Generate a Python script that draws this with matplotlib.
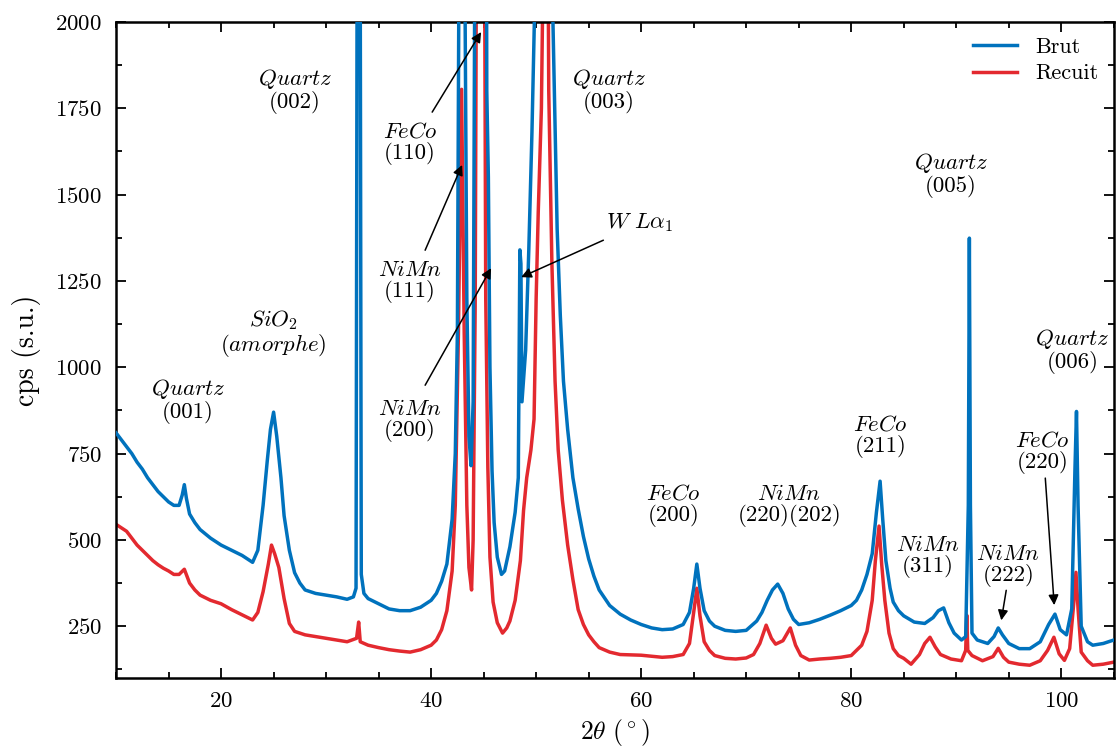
import matplotlib
matplotlib.use("Agg")
import matplotlib.pyplot as plt
from matplotlib.ticker import MultipleLocator

plt.rcParams['font.family'] = 'serif'
plt.rcParams['font.serif'] = ['cmr10', 'DejaVu Serif']
plt.rcParams['mathtext.fontset'] = 'cm'
plt.rcParams['axes.unicode_minus'] = False
plt.rcParams['axes.formatter.use_mathtext'] = True

# ---- data ----
brut_x = [10.0, 10.5, 11.0, 11.5, 12.0, 12.5, 13.0, 13.5, 14.0, 14.5, 15.0, 15.5, 16.0, 16.3, 16.5, 16.7,
          17.0, 17.5, 18.0, 19.0, 20.0, 21.0, 22.0, 22.5, 23.0, 23.5, 24.0, 24.4, 24.7, 25.0, 25.3, 25.7,
          26.0, 26.5, 27.0, 27.5, 28.0, 29.0, 30.0, 31.0, 32.0, 32.6, 32.85, 33.0, 33.1, 33.2, 33.35, 33.6,
          34.0, 35.0, 36.0, 37.0, 38.0, 39.0, 40.0, 40.5, 41.0, 41.5, 42.0, 42.3, 42.5, 42.7, 43.0, 43.2,
          43.4, 43.6, 43.8, 44.0, 44.2, 44.5, 44.8, 45.1, 45.3, 45.45, 45.6, 45.8, 46.0, 46.3, 46.7, 47.0,
          47.5, 48.0, 48.3, 48.45, 48.55, 48.65, 49.0, 49.3, 49.6, 49.9, 50.3, 51.0, 51.6, 52.0, 52.3, 52.6,
          53.0, 53.5, 54.0, 54.5, 55.0, 55.5, 56.0, 57.0, 58.0, 59.0, 60.0, 61.0, 62.0, 63.0, 64.0, 64.6,
          65.0, 65.3, 65.6, 66.0, 66.5, 67.0, 68.0, 69.0, 70.0, 71.0, 71.5, 72.0, 72.5, 73.0, 73.5, 74.0,
          74.5, 75.0, 76.0, 77.0, 78.0, 79.0, 80.0, 80.5, 81.0, 81.5, 82.0, 82.4, 82.75, 83.0, 83.3, 83.7,
          84.0, 84.5, 85.0, 86.0, 87.0, 87.8, 88.3, 88.8, 89.3, 89.8, 90.5, 90.9, 91.15, 91.25, 91.35, 91.5,
          92.0, 93.0, 93.6, 94.0, 94.4, 95.0, 96.0, 97.0, 98.0, 98.8, 99.4, 99.9, 100.5, 101.0, 101.3, 101.45,
          101.6, 101.9, 102.5, 103.0, 104.0, 105.0]
brut_y = [810, 790, 770, 750, 725, 705, 680, 660, 640, 625, 610, 600, 600, 630, 660, 620,
          575, 550, 530, 505, 485, 470, 455, 445, 435, 470, 600, 730, 820, 870, 800, 680,
          570, 470, 405, 375, 355, 345, 340, 335, 328, 335, 360, 3000, 6000, 3000, 400, 345,
          330, 315, 300, 295, 295, 305, 325, 345, 380, 430, 560, 750, 1100, 2500, 4000, 2200,
          1200, 800, 715, 900, 2500, 8000, 10000, 5000, 1800, 1550, 1000, 700, 550, 450, 400, 410,
          480, 580, 680, 1340, 1300, 900, 1050, 1340, 1680, 2100, 3000, 3500, 2000, 1400, 1150, 960,
          820, 680, 590, 510, 445, 395, 355, 310, 285, 268, 255, 245, 240, 242, 255, 290,
          360, 430, 360, 295, 265, 250, 238, 235, 238, 265, 290, 325, 355, 372, 345, 300,
          270, 255, 260, 270, 282, 295, 310, 325, 355, 400, 460, 580, 670, 560, 440, 360,
          320, 295, 280, 262, 258, 275, 295, 303, 260, 230, 210, 220, 600, 1374, 600, 230,
          210, 200, 220, 245, 225, 200, 185, 185, 205, 255, 285, 240, 225, 300, 700, 872,
          600, 250, 205, 195, 200, 210]

recuit_x = [10.0, 10.5, 11.0, 11.5, 12.0, 12.5, 13.0, 13.5, 14.0, 14.5, 15.0, 15.5, 16.0, 16.5, 17.0, 17.5,
            18.0, 19.0, 20.0, 21.0, 22.0, 23.0, 23.5, 24.0, 24.5, 24.8, 25.1, 25.5, 26.0, 26.5, 27.0, 28.0,
            29.0, 30.0, 31.0, 32.0, 32.9, 33.1, 33.25, 34.0, 35.0, 36.0, 37.0, 38.0, 39.0, 40.0, 40.5, 41.0,
            41.5, 42.0, 42.3, 42.6, 42.9, 43.15, 43.4, 43.6, 43.85, 44.0, 44.2, 44.4, 44.7, 45.0, 45.2, 45.4,
            45.6, 45.9, 46.3, 46.8, 47.2, 47.5, 48.0, 48.5, 48.8, 49.1, 49.5, 49.8, 50.0, 50.2, 50.5, 50.8,
            51.0, 51.2, 51.5, 51.8, 52.1, 52.5, 53.0, 53.5, 54.0, 54.5, 55.0, 55.5, 56.0, 57.0, 58.0, 60.0,
            62.0, 63.0, 64.0, 64.6, 65.0, 65.3, 65.6, 66.0, 66.5, 67.0, 68.0, 69.0, 70.0, 70.7, 71.3, 71.9,
            72.4, 72.8, 73.5, 74.2, 74.7, 75.2, 76.0, 77.0, 78.0, 79.0, 80.0, 81.0, 81.5, 82.0, 82.3, 82.65,
            82.9, 83.2, 83.6, 84.0, 84.5, 85.0, 85.7, 86.5, 87.0, 87.5, 88.0, 88.5, 89.5, 90.5, 90.9, 91.0,
            91.1, 91.5, 92.5, 93.5, 94.0, 94.5, 95.0, 96.0, 97.0, 98.0, 98.7, 99.3, 99.8, 100.3, 100.8, 101.2,
            101.4, 101.6, 101.9, 102.5, 103.0, 104.0, 105.0]
recuit_y = [545, 535, 525, 505, 485, 470, 455, 440, 428, 418, 410, 400, 400, 415, 375, 355,
            340, 325, 315, 298, 283, 268, 290, 350, 430, 485, 460, 420, 330, 258, 235, 225,
            220, 215, 210, 205, 215, 262, 205, 195, 188, 182, 178, 175, 182, 195, 210, 240,
            295, 410, 600, 1100, 1805, 1100, 600, 420, 355, 500, 1200, 3000, 8000, 3000, 1200, 710,
            450, 320, 260, 230, 245, 265, 325, 440, 585, 680, 760, 850, 1200, 1450, 1750, 2500,
            3000, 1800, 1300, 960, 760, 615, 485, 385, 298, 255, 225, 205, 188, 175, 168, 166,
            160, 162, 168, 200, 290, 360, 280, 205, 180, 165, 157, 155, 158, 168, 200, 253,
            215, 198, 208, 245, 195, 165, 152, 155, 157, 160, 165, 195, 235, 325, 440, 540,
            430, 325, 230, 185, 165, 157, 140, 168, 200, 218, 190, 168, 155, 150, 180, 282,
            180, 165, 150, 162, 186, 160, 146, 140, 137, 150, 180, 218, 170, 151, 185, 320,
            406, 300, 175, 150, 137, 140, 146]

series_labels = ['Brut', 'Recuit']
series_colors = ['#0072BD', '#E3292F']

# peak labels: (text, x, y)
labels = [
    (r'$Quartz$' + '\n(001)', 16.86, 905),
    (r'$SiO_2$' + '\n' + r'$(amorphe)$', 24.95, 1099),
    (r'$Quartz$' + '\n(002)', 27.05, 1803),
    (r'$FeCo$' + '\n(110)', 38.0, 1649),
    (r'$NiMn$' + '\n(111)', 38.0, 1247),
    (r'$NiMn$' + '\n(200)', 38.0, 847),
    (r'$Quartz$' + '\n(003)', 56.95, 1803),
    (r'$Quartz$' + '\n(005)', 89.5, 1557),
    (r'$Quartz$' + '\n(006)', 101.1, 1050),
    (r'$FeCo$' + '\n(200)', 63.05, 601),
    (r'$NiMn$' + '\n(220)(202)', 74.1, 601),
    (r'$FeCo$' + '\n(211)', 82.76, 800),
    (r'$NiMn$' + '\n(311)', 87.33, 453),
    (r'$NiMn$' + '\n(222)', 94.95, 427),
    (r'$FeCo$' + '\n(220)', 98.2, 754),
]
# arrows: (tail x, tail y, tip x, tip y)
arrows = [
    (40.1, 1739, 44.76, 1971),
    (39.43, 1339, 42.95, 1586),
    (39.43, 948, 45.71, 1287),
    (56.4, 1368, 48.57, 1261),
    (94.76, 354, 94.29, 267),
    (98.48, 679, 99.33, 311),
]
wla_text = (r'$W\ L\alpha_1$', 59.9, 1420)

# ---- figure ----
fig = plt.figure(figsize=(11.16, 7.51), dpi=100)
ax = fig.add_axes([0.104, 0.0972, 0.894, 0.8735])

ax.plot(brut_x, brut_y, color=series_colors[0], lw=2.5, label=series_labels[0], zorder=3)
ax.plot(recuit_x, recuit_y, color=series_colors[1], lw=2.5, label=series_labels[1], zorder=2)

ax.set_xlim(10, 105)
ax.set_ylim(100, 2000)
ax.xaxis.set_major_locator(MultipleLocator(20))
ax.xaxis.set_minor_locator(MultipleLocator(5))
ax.yaxis.set_major_locator(MultipleLocator(250))
ax.yaxis.set_minor_locator(MultipleLocator(125))
ax.tick_params(which='both', direction='in', top=True, right=True, width=1.3)
ax.tick_params(which='major', length=7, labelsize=16.5, pad=10)
ax.tick_params(which='minor', length=4)
for s in ax.spines.values():
    s.set_linewidth(1.8)

ax.set_xlabel(r'$2\theta\ (^\circ)$', fontsize=18.5, labelpad=4)
ax.set_ylabel('cps (s.u.)', fontsize=20, labelpad=10)

for t, x, y in labels:
    ax.text(x, y, t, ha='center', va='center', ma='center', fontsize=16.5, linespacing=1.0, zorder=5)
ax.text(wla_text[1], wla_text[2], wla_text[0], ha='center', va='center', fontsize=16.5, zorder=5)

for x0, y0, x1, y1 in arrows:
    ax.annotate('', xy=(x1, y1), xytext=(x0, y0),
                arrowprops=dict(arrowstyle='-|>', color='black', lw=1.1,
                                mutation_scale=15, shrinkA=0, shrinkB=0), zorder=6)

ax.legend(loc='upper right', frameon=False, fontsize=16, handlelength=2.0,
          borderaxespad=0.3, labelspacing=0.3, handletextpad=0.8)

fig.savefig('out.png', dpi=100)
